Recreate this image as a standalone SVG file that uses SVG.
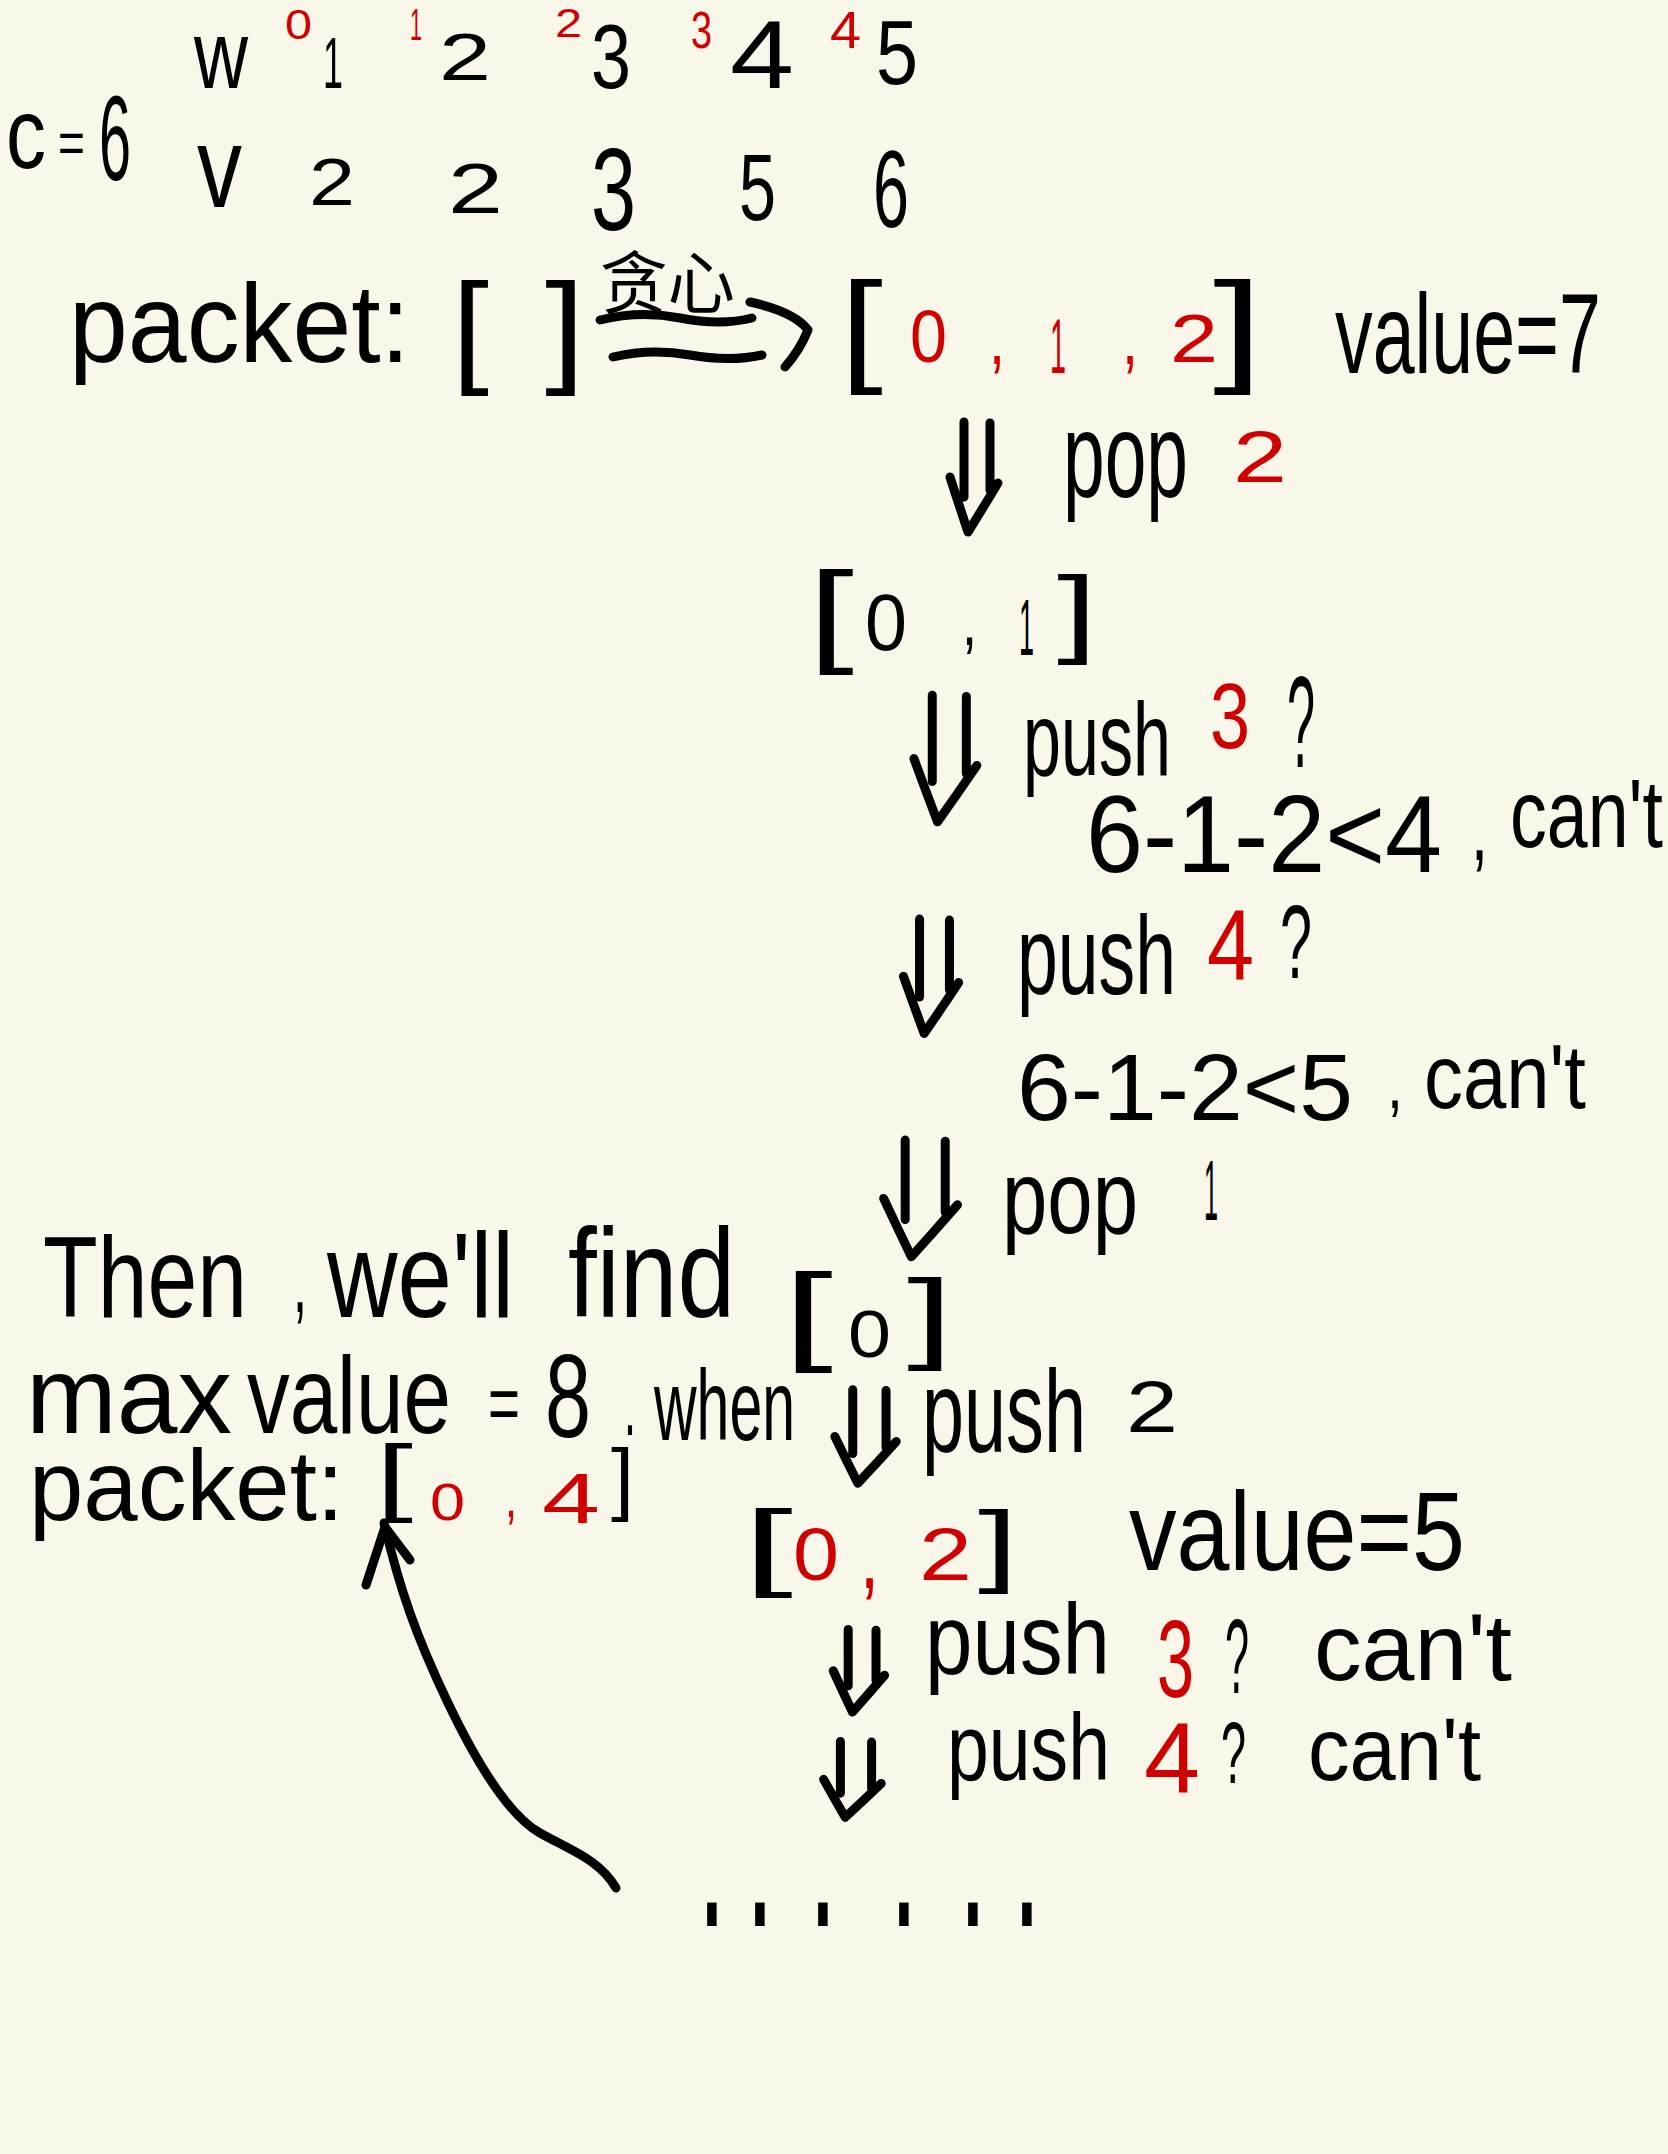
<svg xmlns="http://www.w3.org/2000/svg" xmlns:xlink="http://www.w3.org/1999/xlink" width="1668" height="2154" viewBox="0 0 1668 2154">
<style>
text{font-family:"Liberation Sans",Arial,sans-serif;fill:#000}
.r{fill:#d00000}
.cjk{font-family:"Liberation Sans","Noto Sans CJK SC",sans-serif}
.ln{fill:none;stroke:#000;stroke-width:9;stroke-linecap:round;stroke-linejoin:round}
</style>
<defs>
<path id="dbl" d="M17,2 L17,77 M43,3 L43,70 M3,57 Q12,85 21,112 Q36,88 51,63" fill="none" stroke="#000" stroke-width="9" stroke-linecap="round" stroke-linejoin="round" vector-effect="non-scaling-stroke"/>
</defs>
<rect width="1668" height="2154" fill="#f9f6ea"/>

<g id="header">
<text x="6" y="168" font-size="100" textLength="40" lengthAdjust="spacingAndGlyphs">c</text>
<text x="58" y="163" font-size="60" textLength="27" lengthAdjust="spacingAndGlyphs">=</text>
<text x="99" y="180" font-size="120" textLength="32" lengthAdjust="spacingAndGlyphs">6</text>
<text x="194" y="88" font-size="96" textLength="54" lengthAdjust="spacingAndGlyphs">w</text>
<text x="323" y="88" font-size="72" textLength="20" lengthAdjust="spacingAndGlyphs">1</text>
<text x="439" y="80" font-size="66" textLength="52" lengthAdjust="spacingAndGlyphs">2</text>
<text x="591" y="88" font-size="90" textLength="40" lengthAdjust="spacingAndGlyphs">3</text>
<text x="730" y="88" font-size="96" textLength="64" lengthAdjust="spacingAndGlyphs">4</text>
<text x="876" y="84" font-size="91" textLength="42" lengthAdjust="spacingAndGlyphs">5</text>
<text class="r" x="285" y="39" font-size="42" textLength="27" lengthAdjust="spacingAndGlyphs">0</text>
<text class="r" x="410" y="40" font-size="44" textLength="12" lengthAdjust="spacingAndGlyphs">1</text>
<text class="r" x="555" y="37" font-size="40" textLength="27" lengthAdjust="spacingAndGlyphs">2</text>
<text class="r" x="691" y="48" font-size="52" textLength="21" lengthAdjust="spacingAndGlyphs">3</text>
<text class="r" x="830" y="48" font-size="52" textLength="31" lengthAdjust="spacingAndGlyphs">4</text>
<text x="197" y="207" font-size="115" textLength="45" lengthAdjust="spacingAndGlyphs">v</text>
<text x="309" y="205" font-size="67" textLength="46" lengthAdjust="spacingAndGlyphs">2</text>
<text x="448" y="213" font-size="71" textLength="55" lengthAdjust="spacingAndGlyphs">2</text>
<text x="591" y="230" font-size="116" textLength="45" lengthAdjust="spacingAndGlyphs">3</text>
<text x="739" y="220" font-size="95" textLength="37" lengthAdjust="spacingAndGlyphs">5</text>
<text x="873" y="227" font-size="110" textLength="36" lengthAdjust="spacingAndGlyphs">6</text>
</g>

<g id="packet-empty">
<text transform="translate(69,362) scale(1,1.06)" font-size="105.8" textLength="341" lengthAdjust="spacingAndGlyphs">packet:</text>
<text x="452" y="370" font-size="125" textLength="37" lengthAdjust="spacingAndGlyphs">[</text>
<text x="545" y="370" font-size="125" textLength="40" lengthAdjust="spacingAndGlyphs">]</text>
</g>

<g id="greedy-label">
<text class="cjk" x="600" y="308" font-size="68" textLength="135" lengthAdjust="spacingAndGlyphs">贪心</text>
</g>

<g id="state-012">
<text x="840" y="369" font-size="125" textLength="43" lengthAdjust="spacingAndGlyphs">[</text>
<text class="r" x="910" y="362" font-size="75" textLength="37" lengthAdjust="spacingAndGlyphs">0</text>
<text class="r" x="989" y="364" font-size="75" textLength="16" lengthAdjust="spacingAndGlyphs">,</text>
<text class="r" x="1050" y="373" font-size="78" textLength="16" lengthAdjust="spacingAndGlyphs">1</text>
<text class="r" x="1122" y="364" font-size="75" textLength="16" lengthAdjust="spacingAndGlyphs">,</text>
<text class="r" x="1170" y="362" font-size="68" textLength="48" lengthAdjust="spacingAndGlyphs">2</text>
<text x="1213" y="369" font-size="125" textLength="50" lengthAdjust="spacingAndGlyphs">]</text>
<text transform="translate(1335,373) scale(1,1.49)" font-size="75.4" textLength="266" lengthAdjust="spacingAndGlyphs">value=7</text>
</g>

<g id="step-pop2">
<text transform="translate(1063,497) scale(1,1.6)" font-size="74.9" textLength="125" lengthAdjust="spacingAndGlyphs">pop</text>
<text class="r" x="1233" y="482" font-size="72" textLength="54" lengthAdjust="spacingAndGlyphs">2</text>
</g>

<g id="state-01">
<text x="808" y="651" font-size="114" textLength="46" lengthAdjust="spacingAndGlyphs">[</text>
<text x="865" y="650" font-size="79" textLength="42" lengthAdjust="spacingAndGlyphs">0</text>
<text x="962" y="645" font-size="70" textLength="15" lengthAdjust="spacingAndGlyphs">,</text>
<text transform="translate(1019,655) scale(1,2)" font-size="40" textLength="15" lengthAdjust="spacingAndGlyphs">1</text>
<text x="1057" y="645" font-size="98" textLength="40" lengthAdjust="spacingAndGlyphs">]</text>
</g>

<g id="step-push3">
<text transform="translate(1023,775) scale(1,1.51)" font-size="68.3" textLength="148" lengthAdjust="spacingAndGlyphs">push</text>
<text class="r" x="1210" y="748" font-size="92" textLength="40" lengthAdjust="spacingAndGlyphs">3</text>
<text x="1287" y="767" font-size="130" textLength="28" lengthAdjust="spacingAndGlyphs">?</text>
<text transform="translate(1086,872) scale(1,1.07)" font-size="102.5" textLength="356" lengthAdjust="spacingAndGlyphs">6-1-2&lt;4</text>
<text x="1471" y="860" font-size="90" textLength="17" lengthAdjust="spacingAndGlyphs">,</text>
<text transform="translate(1510,847) scale(1,1.32)" font-size="73.5" textLength="153" lengthAdjust="spacingAndGlyphs">can't</text>
</g>

<g id="step-push4">
<text transform="translate(1017,994) scale(1,1.53)" font-size="73.3" textLength="159" lengthAdjust="spacingAndGlyphs">push</text>
<text class="r" x="1207" y="980" font-size="100" textLength="47" lengthAdjust="spacingAndGlyphs">4</text>
<text x="1280" y="978" font-size="104" textLength="32" lengthAdjust="spacingAndGlyphs">?</text>
<text transform="translate(1017,1120) scale(1,0.97)" font-size="96.7" textLength="336" lengthAdjust="spacingAndGlyphs">6-1-2&lt;5</text>
<text x="1387" y="1108" font-size="70" textLength="16" lengthAdjust="spacingAndGlyphs">,</text>
<text transform="translate(1424,1108) scale(1,1.16)" font-size="77.8" textLength="162" lengthAdjust="spacingAndGlyphs">can't</text>
</g>

<g id="step-pop1">
<text transform="translate(1002,1233) scale(1,1.28)" font-size="81.5" textLength="136" lengthAdjust="spacingAndGlyphs">pop</text>
<text x="1204" y="1220" font-size="86" textLength="14" lengthAdjust="spacingAndGlyphs">1</text>
</g>

<g id="state-0">
<text x="783" y="1350" font-size="110" textLength="50" lengthAdjust="spacingAndGlyphs">[</text>
<text x="848" y="1357" font-size="66" textLength="43" lengthAdjust="spacingAndGlyphs">0</text>
<text x="907" y="1350" font-size="100" textLength="46" lengthAdjust="spacingAndGlyphs">]</text>
</g>

<g id="step-push2">
<text transform="translate(922,1452) scale(1,1.55)" font-size="75.6" textLength="164" lengthAdjust="spacingAndGlyphs">push</text>
<text x="1126" y="1432" font-size="73" textLength="52" lengthAdjust="spacingAndGlyphs">2</text>
</g>

<g id="state-02">
<text x="743" y="1578" font-size="96" textLength="50" lengthAdjust="spacingAndGlyphs">[</text>
<text class="r" x="793" y="1580" font-size="74" textLength="46" lengthAdjust="spacingAndGlyphs">0</text>
<text class="r" x="860" y="1588" font-size="90" textLength="19" lengthAdjust="spacingAndGlyphs">,</text>
<text class="r" x="919" y="1580" font-size="74" textLength="53" lengthAdjust="spacingAndGlyphs">2</text>
<text x="978" y="1575" font-size="90" textLength="40" lengthAdjust="spacingAndGlyphs">]</text>
<text transform="translate(1129,1570) scale(1,1.16)" font-size="95.2" textLength="336" lengthAdjust="spacingAndGlyphs">value=5</text>
</g>

<g id="step-push3-b">
<text transform="translate(925,1674) scale(1,1.17)" font-size="85.3" textLength="185" lengthAdjust="spacingAndGlyphs">push</text>
<text class="r" x="1157" y="1697" font-size="110" textLength="37" lengthAdjust="spacingAndGlyphs">3</text>
<text x="1225" y="1693" font-size="105" textLength="24" lengthAdjust="spacingAndGlyphs">?</text>
<text x="1314" y="1680" font-size="95.1" textLength="198" lengthAdjust="spacingAndGlyphs">can't</text>
</g>

<g id="step-push4-b">
<text transform="translate(947,1780) scale(1,1.26)" font-size="75.2" textLength="163" lengthAdjust="spacingAndGlyphs">push</text>
<text class="r" x="1144" y="1793" font-size="100" textLength="56" lengthAdjust="spacingAndGlyphs">4</text>
<text x="1221" y="1783" font-size="87" textLength="25" lengthAdjust="spacingAndGlyphs">?</text>
<text transform="translate(1308,1780) scale(1,1.06)" font-size="83.1" textLength="173" lengthAdjust="spacingAndGlyphs">can't</text>
</g>

<g id="ellipsis">
<text transform="translate(0,1926) scale(1,2.2)" x="698 746 809 890 959 1013" y="0" font-size="100">......</text>
</g>

<g id="conclusion">
<text transform="translate(43,1317) scale(1,1.28)" font-size="89.5" textLength="204" lengthAdjust="spacingAndGlyphs">Then</text>
<text x="293" y="1312" font-size="90" textLength="14" lengthAdjust="spacingAndGlyphs">,</text>
<text transform="translate(327,1317) scale(1,1.23)" font-size="97.8" textLength="187" lengthAdjust="spacingAndGlyphs">we'll</text>
<text transform="translate(568,1317) scale(1,1.21)" font-size="103.6" textLength="167" lengthAdjust="spacingAndGlyphs">find</text>
<text x="26" y="1433" font-size="109" textLength="206" lengthAdjust="spacingAndGlyphs">max</text>
<text transform="translate(247,1433) scale(1,1.29)" font-size="85.4" textLength="204" lengthAdjust="spacingAndGlyphs">value</text>
<text x="488" y="1430" font-size="80" textLength="32" lengthAdjust="spacingAndGlyphs">=</text>
<text x="545" y="1437" font-size="118" textLength="46" lengthAdjust="spacingAndGlyphs">8</text>
<text x="624" y="1435" font-size="90" textLength="12" lengthAdjust="spacingAndGlyphs">.</text>
<text transform="translate(654,1440) scale(1,1.7)" font-size="59" textLength="141" lengthAdjust="spacingAndGlyphs">when</text>
<text transform="translate(29,1520) scale(1,1.02)" font-size="97.7" textLength="315" lengthAdjust="spacingAndGlyphs">packet:</text>
<text x="376" y="1505" font-size="85" textLength="37" lengthAdjust="spacingAndGlyphs">[</text>
<text class="r" x="430" y="1520" font-size="52" textLength="35" lengthAdjust="spacingAndGlyphs">0</text>
<text class="r" x="505" y="1517" font-size="60" textLength="12" lengthAdjust="spacingAndGlyphs">,</text>
<text class="r" x="542" y="1523" font-size="70" textLength="58" lengthAdjust="spacingAndGlyphs">4</text>
<text x="611" y="1505" font-size="80" textLength="23" lengthAdjust="spacingAndGlyphs">]</text>
</g>

<g id="connectors">
<path class="ln" d="M600,320 Q640,310 680,318 T752,318"/>
<path class="ln" d="M613,357 Q650,348 690,355 T762,355"/>
<path class="ln" d="M750,302 Q795,312 808,330 Q800,350 785,367"/>
<use href="#dbl" xlink:href="#dbl" transform="translate(947,420)"/>
<use href="#dbl" xlink:href="#dbl" transform="translate(910,693) scale(1.31,1.15)"/>
<use href="#dbl" xlink:href="#dbl" transform="translate(900,917) scale(1.15,1.04)"/>
<use href="#dbl" xlink:href="#dbl" transform="translate(879,1138) scale(1.54,1.06)"/>
<use href="#dbl" xlink:href="#dbl" transform="translate(831,1388) scale(1.28,0.85)"/>
<use href="#dbl" xlink:href="#dbl" transform="translate(830,1628) scale(1.07,0.75)"/>
<use href="#dbl" xlink:href="#dbl" transform="translate(820,1740) scale(1.2,0.69)"/>
<path class="ln" stroke-width="10" d="M616,1888 C600,1860 570,1850 540,1833 S480,1770 448,1703 S400,1590 384,1523"/>
<path class="ln" d="M366,1585 L385,1527 L410,1560"/>
</g>
</svg>
